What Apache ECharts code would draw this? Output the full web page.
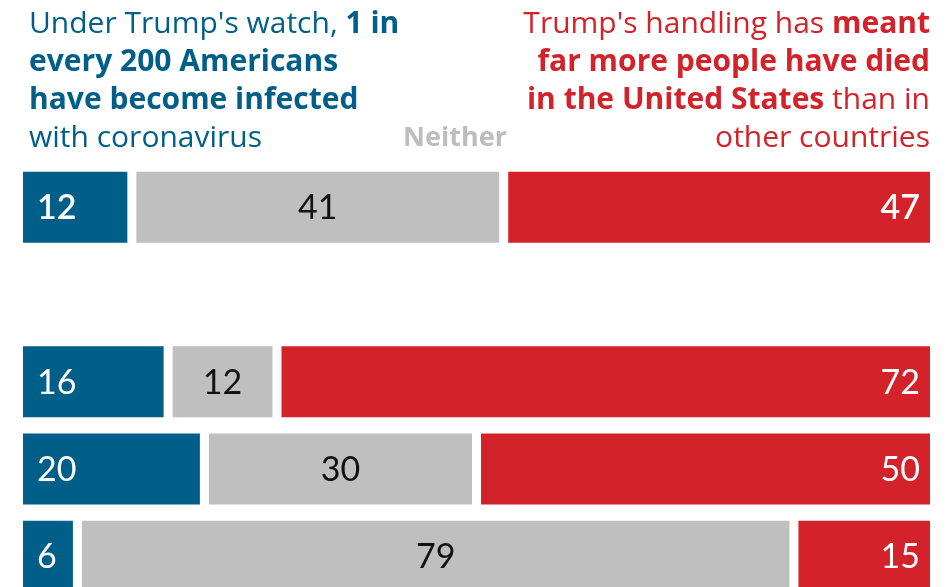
<!DOCTYPE html>
<html>
<head>
<meta charset="utf-8">
<script src="https://cdn.jsdelivr.net/npm/echarts@6/dist/echarts.min.js"></script>
<style>
html,body{margin:0;padding:0;background:#fff;}
#chart{width:946px;height:587px;}
</style>
</head>
<body>
<div id="chart"></div>
<script>
// Row slots on the vertical axis (slot 1 is an empty spacer row)
const categories = ['All', '', 'Group A', 'Group B', 'Group C'];
const rowSlots = [0, 2, 3, 4];
const blueValues = [12, 16, 20, 6];
const grayValues = [41, 12, 30, 79];
const redValues = [47, 72, 50, 15];

const BLUE = '#005f89';
const GRAY = '#bfbfbf';
const RED = '#d32229';
const FONT = 'Lato, "Noto Sans", sans-serif';
const HFONT = '"Open Sans", Lato, sans-serif';
const GAP = 9;
const BAR_H = 71;

function buildData(startArr, valArr) {
  return rowSlots.map((slot, i) => {
    const start = startArr ? startArr[i] : 0;
    return [slot, start, start + valArr[i], valArr[i], i];
  });
}
const blueData = buildData(null, blueValues);
const grayData = buildData(blueValues, grayValues);
const redData = buildData(blueValues.map((b, i) => b + grayValues[i]), redValues);

function makeRender(color, labelColor, labelPos) {
  return function (params, api) {
    const slot = api.value(0), s = api.value(1), e = api.value(2), v = api.value(3), idx = api.value(4);
    const p0 = api.coord([s, slot]);
    const p1 = api.coord([e, slot]);
    let x0 = p0[0], x1 = p1[0];
    if (s > 0) x0 += GAP / 2;
    if (e < 100) x1 -= GAP / 2;
    const cy = p0[1];
    let tx, align;
    if (labelPos === 'left') { tx = x0 + 14; align = 'left'; }
    else if (labelPos === 'right') { tx = x1 - 10; align = 'right'; }
    else { tx = (x0 + x1) / 2; align = 'center'; }
    const bold = idx === 0 && labelPos !== 'center';
    return {
      type: 'group',
      children: [
        { type: 'rect', shape: { x: x0, y: cy - BAR_H / 2, width: x1 - x0, height: BAR_H }, style: { fill: color } },
        { type: 'text', style: { text: String(v), x: tx, y: cy + 1, align: align, verticalAlign: 'middle',
            fill: labelColor, font: (bold ? '600 ' : '400 ') + '34px ' + FONT } }
      ]
    };
  };
}

// slot spacing ~87.26px; grid from y=163.6 to bottom of canvas
const GRID_TOP = 163.6;
const SLOT = 87.26;
const Y_MAX = -0.5 + (587 - GRID_TOP) / SLOT;

const chart = echarts.init(document.getElementById('chart'), null, { renderer: 'canvas' });
chart.setOption({
  backgroundColor: '#ffffff',
  animation: false,
  grid: { left: 23, right: 16, top: GRID_TOP, bottom: 0, containLabel: false },
  xAxis: { type: 'value', min: 0, max: 100, show: false },
  yAxis: { type: 'value', min: -0.5, max: Y_MAX, inverse: true, show: false },
  series: [
    { type: 'custom', name: 'Infected', renderItem: makeRender(BLUE, '#ffffff', 'left'), encode: { x: [1, 2], y: 0 }, data: blueData, clip: false },
    { type: 'custom', name: 'Neither', renderItem: makeRender(GRAY, '#111111', 'center'), encode: { x: [1, 2], y: 0 }, data: grayData, clip: false },
    { type: 'custom', name: 'Died', renderItem: makeRender(RED, '#ffffff', 'right'), encode: { x: [1, 2], y: 0 }, data: redData, clip: false }
  ],
  graphic: [
    {
      type: 'text', left: 29, top: 9,
      style: {
        text: '{n|Under Trump\'s watch, }{b|1 in}\n{b|every 200 Americans}\n{b|have become infected}\n{n|with coronavirus}',
        align: 'left',
        rich: {
          n: { fontFamily: HFONT, fontSize: 30, fontWeight: 400, fill: BLUE, lineHeight: 38 },
          b: { fontFamily: HFONT, fontSize: 30, fontWeight: 700, fill: BLUE, lineHeight: 38 }
        }
      }
    },
    {
      type: 'text', right: 16, top: 9,
      style: {
        text: '{n|Trump\'s handling has }{b|meant}\n{b|far more people have died}\n{b|in the United States}{n| than in}\n{n|other countries}',
        align: 'right',
        rich: {
          n: { fontFamily: HFONT, fontSize: 30, fontWeight: 400, fill: RED, lineHeight: 38, align: 'right' },
          b: { fontFamily: HFONT, fontSize: 30, fontWeight: 700, fill: RED, lineHeight: 38, align: 'right' }
        }
      }
    },
    {
      type: 'text', x: 455, y: 138,
      style: { text: 'Neither', align: 'center', verticalAlign: 'middle', font: '700 27px ' + HFONT, fill: '#bdbdbd' }
    }
  ]
});
</script>
</body>
</html>
